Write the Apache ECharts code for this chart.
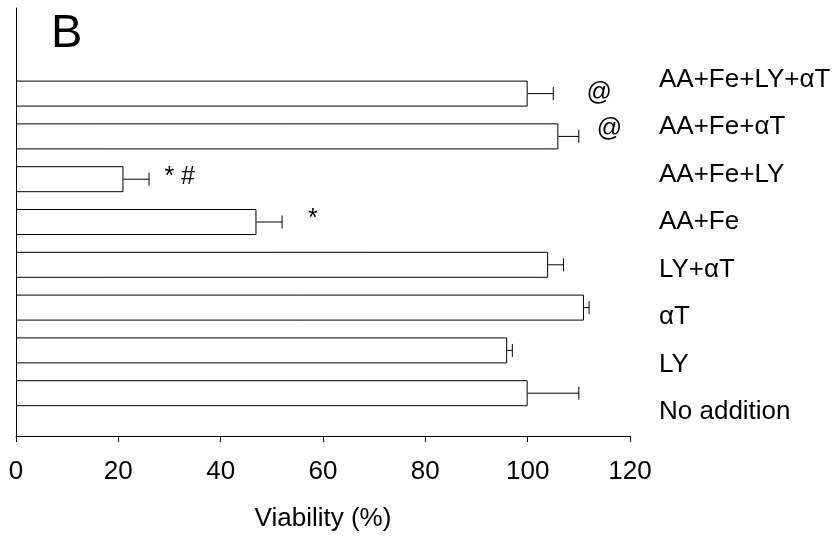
<!DOCTYPE html>
<html>
<head>
<meta charset="utf-8">
<script src="https://cdn.jsdelivr.net/npm/echarts@6/dist/echarts.min.js"></script>
<style>
  html, body { margin: 0; padding: 0; background: #fff; }
  #main { width: 838px; height: 537px; }
</style>
</head>
<body>
<div id="main"></div>
<script>
// groups from bottom to top
const groups = ['No addition', 'LY', 'αT', 'LY+αT', 'AA+Fe', 'AA+Fe+LY', 'AA+Fe+αT', 'AA+Fe+LY+αT'];
const viability = [100, 96, 111, 104, 47, 21, 106, 100];
const errors = [10, 1, 1, 3, 5, 5, 4, 5];
const xTicks = [0, 20, 40, 60, 80, 100, 120];

// significance marks next to the bars
const markText = ['@', '@', '* #', '*'];
const markX = [114, 116, 32, 58];
const markGroup = ['AA+Fe+LY+αT', 'AA+Fe+αT', 'AA+Fe+LY', 'AA+Fe'];

// bars: one empty slot below and two above so they sit like the original
const barCats = [' ', ...groups, '  ', '   '];
// the legend-like labels on the right are spaced a bit wider than the bars
const labelCats = [...groups, ' '];
const font = 'Liberation Sans, Arial, sans-serif';

// small vertical nudges for the marks (px)
const markNudge = [0, -7, -2, -3];

const chart = echarts.init(document.getElementById('main'));

const option = {
  backgroundColor: '#fff',
  animation: false,
  title: {
    text: 'B',
    left: 46,
    top: 6,
    textStyle: { fontFamily: font, fontSize: 47, fontWeight: 'normal', color: '#000' }
  },
  grid: { left: 16, right: 208, top: 8, bottom: 100 },
  xAxis: {
    type: 'value',
    min: xTicks[0],
    max: xTicks[xTicks.length - 1],
    interval: 20,
    name: 'Viability (%)',
    nameLocation: 'middle',
    nameGap: 70,
    nameTextStyle: { fontFamily: font, fontSize: 26, color: '#000' },
    axisLine: { show: true, lineStyle: { color: '#000', width: 1 } },
    axisTick: { show: true, length: 6, lineStyle: { color: '#000' } },
    axisLabel: { fontFamily: font, fontSize: 26, color: '#000', margin: 23 },
    splitLine: { show: false }
  },
  yAxis: [
    {
      type: 'category',
      data: barCats,
      boundaryGap: false,
      axisLine: { show: true, lineStyle: { color: '#000', width: 1 } },
      axisTick: { show: false },
      axisLabel: { show: false }
    },
    {
      type: 'category',
      data: labelCats,
      boundaryGap: true,
      position: 'right',
      axisLine: { show: false },
      axisTick: { show: false },
      axisLabel: {
        fontFamily: font, fontSize: 26, color: '#000',
        align: 'left', margin: 29
      }
    }
  ],
  series: [
    {
      type: 'bar',
      yAxisIndex: 0,
      barWidth: 26,
      itemStyle: { color: '#fff', borderColor: '#000', borderWidth: 1 },
      data: viability.map((v, i) => [v, groups[i]])
    },
    {
      type: 'custom',
      yAxisIndex: 0,
      renderItem: function (params, api) {
        const y = api.value(1);
        const a = api.coord([api.value(0), y]);
        const b = api.coord([api.value(0) + api.value(2), y]);
        const cap = 6.5;
        const st = { stroke: '#000', lineWidth: 1 };
        return {
          type: 'group',
          children: [
            { type: 'line', shape: { x1: a[0], y1: a[1], x2: b[0], y2: b[1] }, style: st },
            { type: 'line', shape: { x1: b[0], y1: b[1] - cap, x2: b[0], y2: b[1] + cap }, style: st }
          ]
        };
      },
      data: viability.map((v, i) => [v, groups[i], errors[i]]),
      z: 3
    },
    {
      type: 'scatter',
      yAxisIndex: 0,
      symbolSize: 0,
      itemStyle: { opacity: 1 },
      label: {
        show: true,
        position: 'inside',
        fontFamily: font,
        fontSize: 25,
        color: '#000',
        formatter: p => markText[p.dataIndex]
      },
      data: markX.map((x, i) => ({
        value: [x, markGroup[i]],
        label: { offset: [0, markNudge[i]] }
      }))
    }
  ]
};

chart.setOption(option);
</script>
</body>
</html>
